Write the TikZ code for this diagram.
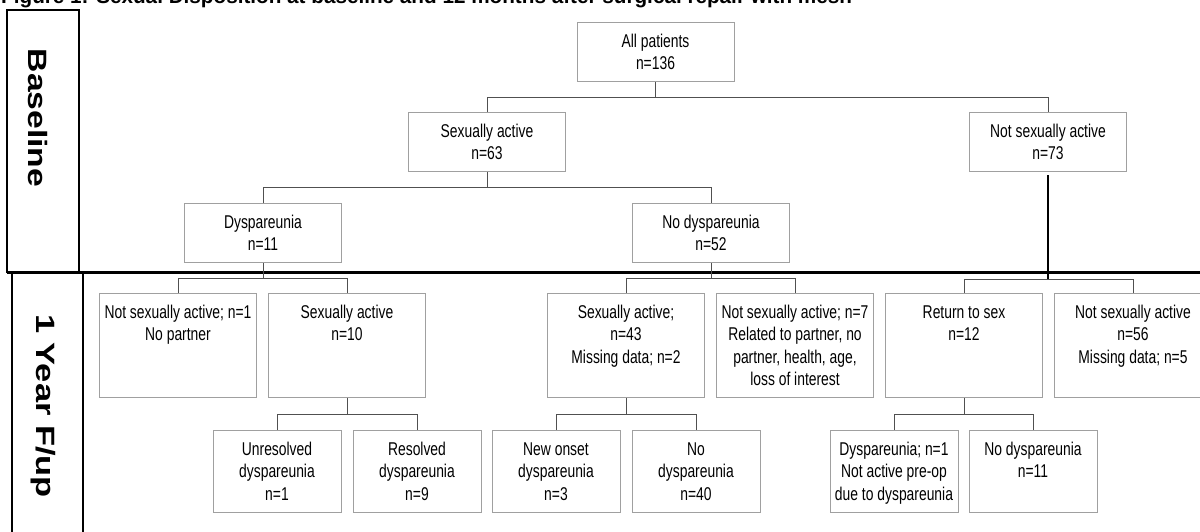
\documentclass[tikz,border=0pt]{standalone}
\usepackage{graphicx}
\usepackage{fontspec}
\setmainfont{Liberation Sans}[FakeStretch=0.75]
\newfontfamily\hdfont{Liberation Sans}
\definecolor{boxgray}{HTML}{A0A0A0}
\definecolor{conngray}{HTML}{505050}
\newcommand{\bxt}[3]{\parbox[c][#2][t]{#1}{\centering\fontsize{18.5pt}{22.5pt}\selectfont\rule{0pt}{24.6pt}#3\par}}
\tikzset{
  fbox/.style={draw=boxgray, line width=1pt, inner sep=0pt, anchor=north, fill=white},
  conn/.style={draw=conngray, line width=0.9pt},
  frame/.style={draw=black, line width=2pt},
  sidelab/.style={rotate=-90, inner sep=0pt, font=\hdfont\bfseries\fontsize{26.5pt}{27pt}\selectfont}
}
\begin{document}
\begin{tikzpicture}[x=1pt, y=-1pt]
\fill[white] (0,0) rectangle (1200,531);
\useasboundingbox (0,0) rectangle (1200,531);

% title (clipped at the top)
\node[anchor=base west, inner sep=0pt, font=\hdfont\bfseries\fontsize{20.7pt}{22pt}\selectfont] (title) at (1,3) {Figure 1: Sexual Disposition at baseline and 12 months after surgical repair with mesh};

% side frames
\coordinate (bl1) at (7,10);
\coordinate (bl2) at (79,272);
\coordinate (fu1) at (12,272);
\coordinate (fu2) at (83,545);
\coordinate (hl1) at (7,272);
\coordinate (hl2) at (1200,272);
\draw[frame] (bl1) rectangle (bl2);
\draw[frame] (fu1) rectangle (fu2);
\draw[black, line width=3pt] (hl1) -- (hl2);
\node[sidelab] (lbase) at (37.5,118) {\scalebox{1.27}[1]{Baseline}};
\node[sidelab] (lfup) at (43.5,406) {\scalebox{1.3}[1]{1 Year F/up}};

% top rows
\node[fbox] (all) at (655.5,22) {\bxt{157pt}{59pt}{All patients\\n=136}};
\node[fbox] (sa63) at (487,112) {\bxt{157pt}{59pt}{Sexually active\\n=63}};
\node[fbox] (nsa73) at (1048,112) {\bxt{157pt}{59pt}{Not sexually active\\n=73}};
\node[fbox] (dys11) at (263,203) {\bxt{157pt}{59pt}{Dyspareunia\\n=11}};
\node[fbox] (nod52) at (711,203) {\bxt{157pt}{59pt}{No dyspareunia\\n=52}};

% middle row
\node[fbox] (nsa1) at (178,293) {\bxt{157pt}{104pt}{Not sexually active; n=1\\No partner}};
\node[fbox] (sa10) at (347,293) {\bxt{157pt}{104pt}{Sexually active\\n=10}};
\node[fbox] (sa43) at (626,293) {\bxt{157pt}{104pt}{Sexually active;\\n=43\\Missing data; n=2}};
\node[fbox] (nsa7) at (795,293) {\bxt{157pt}{104pt}{Not sexually active; n=7\\Related to partner, no\\partner, health, age,\\loss of interest}};
\node[fbox] (ret) at (964,293) {\bxt{157pt}{104pt}{Return to sex\\n=12}};
\node[fbox] (nsa56) at (1133,293) {\bxt{157pt}{104pt}{Not sexually active\\n=56\\Missing data; n=5}};

% bottom row
\node[fbox] (unres) at (277,430) {\bxt{128pt}{82pt}{Unresolved\\dyspareunia\\n=1}};
\node[fbox] (res) at (417,430) {\bxt{128pt}{82pt}{Resolved\\dyspareunia\\n=9}};
\node[fbox] (newon) at (556,430) {\bxt{128pt}{82pt}{New onset\\dyspareunia\\n=3}};
\node[fbox] (nod40) at (696,430) {\bxt{128pt}{82pt}{No\\dyspareunia\\n=40}};
\node[fbox] (dys1) at (894,430) {\bxt{128pt}{82pt}{Dyspareunia; n=1\\Not active pre-op\\due to dyspareunia}};
\node[fbox] (nod11) at (1033,430) {\bxt{128pt}{82pt}{No dyspareunia\\n=11}};

% connectors
\draw[conn] (all.south) -- ++(0,15) coordinate (j1);
\draw[conn] (j1) -| (sa63.north);
\draw[conn] (j1) -| (nsa73.north);

\draw[conn] (sa63.south) -- ++(0,15) coordinate (j2);
\draw[conn] (j2) -| (dys11.north);
\draw[conn] (j2) -| (nod52.north);

\draw[conn] (dys11.south) -- ++(0,15) coordinate (j3);
\draw[conn] (j3) -| (nsa1.north);
\draw[conn] (j3) -| (sa10.north);

\draw[conn] (nod52.south) -- ++(0,15) coordinate (j4);
\draw[conn] (j4) -| (sa43.north);
\draw[conn] (j4) -| (nsa7.north);

\draw[black, line width=2pt] ([yshift=-3pt]nsa73.south) -- ++(0,104) coordinate (j5);
\draw[conn] (j5) -| (ret.north);
\draw[conn] (j5) -| (nsa56.north);

\draw[conn] (sa10.south) -- ++(0,16) coordinate (j6);
\draw[conn] (j6) -| (unres.north);
\draw[conn] (j6) -| (res.north);

\draw[conn] (sa43.south) -- ++(0,16) coordinate (j7);
\draw[conn] (j7) -| (newon.north);
\draw[conn] (j7) -| (nod40.north);

\draw[conn] (ret.south) -- ++(0,16) coordinate (j8);
\draw[conn] (j8) -| (dys1.north);
\draw[conn] (j8) -| (nod11.north);
\end{tikzpicture}
\end{document}
